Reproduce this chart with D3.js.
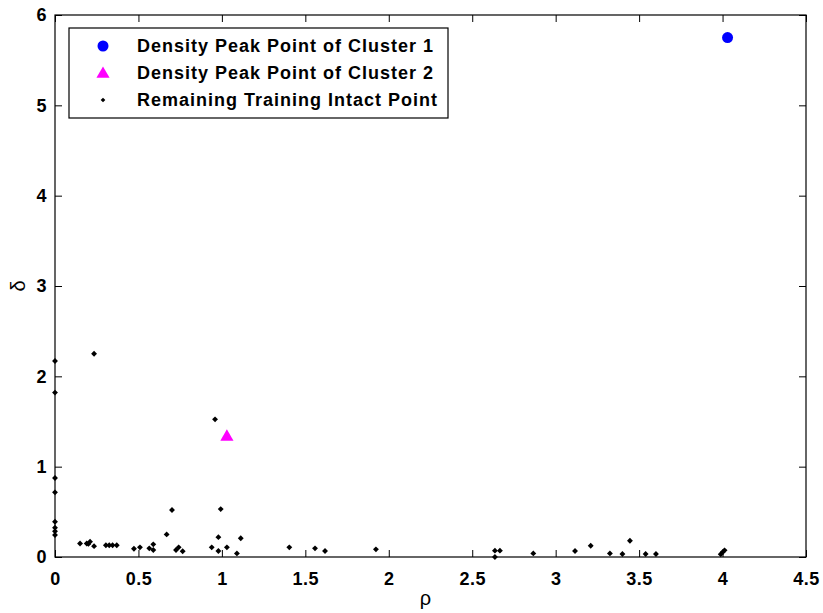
<!DOCTYPE html>
<html>
<head>
<meta charset="utf-8">
<script src="https://cdn.jsdelivr.net/npm/d3@7"></script>
<style>
  body { margin: 0; background: #fff; }
  text { font-family: "Liberation Sans", Arial, sans-serif; }
</style>
</head>
<body>
<div id="chart"></div>
<script>
// legend entries
var seriesNames = ["Density Peak Point of Cluster 1", "Density Peak Point of Cluster 2", "Remaining Training Intact Point"];

// density peaks (rho, delta)
var peak1 = [[4.03, 5.75]];
var peak2 = [[1.03, 1.34]];

// remaining points
var restRho = [0, 0, 0, 0, 0, 0, 0, 0,
  0.234, 0.15, 0.19, 0.21, 0.20, 0.234,
  0.305, 0.325, 0.345, 0.37, 0.473, 0.509,
  0.565, 0.589, 0.589, 0.669, 0.701, 0.725, 0.741, 0.765,
  0.959, 0.939, 0.979, 0.979, 0.993, 1.03, 1.09, 1.113,
  1.404, 1.558, 1.618, 1.923,
  2.636, 2.666, 2.636, 2.866, 3.116, 3.21,
  3.325, 3.40, 3.445, 3.539, 3.601,
  3.989, 4.0, 4.012];
var restDelta = [2.17, 1.82, 0.875, 0.716, 0.39, 0.325, 0.285, 0.243,
  2.25, 0.15, 0.15, 0.17, 0.145, 0.12,
  0.13, 0.13, 0.13, 0.13, 0.092, 0.107,
  0.096, 0.14, 0.077, 0.25, 0.52, 0.077, 0.107, 0.063,
  1.524, 0.107, 0.22, 0.066, 0.53, 0.107, 0.04, 0.207,
  0.107, 0.096, 0.066, 0.085,
  0.07, 0.07, 0.0, 0.04, 0.066, 0.125,
  0.04, 0.033, 0.18, 0.033, 0.033,
  0.03, 0.052, 0.074];

var xTicks = [0, 0.5, 1, 1.5, 2, 2.5, 3, 3.5, 4, 4.5];
var yTicks = [0, 1, 2, 3, 4, 5, 6];

var W = 823, H = 613;
var m = {left: 55, right: 17, top: 15, bottom: 56};
var w = W - m.left - m.right, h = H - m.top - m.bottom;

var svg = d3.select("#chart").append("svg")
  .attr("width", W).attr("height", H);

var g = svg.append("g").attr("transform", "translate(" + m.left + "," + m.top + ")");

var x = d3.scaleLinear().domain([0, 4.5]).range([0, w]);
var y = d3.scaleLinear().domain([0, 6]).range([h, 0]);

//Axes with inward ticks on every side
function styleAxis(sel, showText){
  sel.select(".domain").remove();
  sel.selectAll("line").attr("stroke", "#000").attr("stroke-width", 1);
  sel.selectAll("text")
    .style("font-size", "18px")
    .style("font-weight", "bold")
    .style("letter-spacing", "0.5px")
    .attr("fill", "#000")
    .style("display", showText ? null : "none");
}

var fmt = d3.format("");

g.append("g").attr("transform", "translate(0," + h + ")")
  .call(d3.axisBottom(x).tickValues(xTicks).tickSize(-7).tickPadding(15).tickFormat(fmt))
  .call(styleAxis, true);
g.append("g")
  .call(d3.axisTop(x).tickValues(xTicks).tickSize(-7))
  .call(styleAxis, false);
g.append("g")
  .call(d3.axisLeft(y).tickValues(yTicks).tickSize(-7).tickPadding(8).tickFormat(fmt))
  .call(styleAxis, true);
g.append("g").attr("transform", "translate(" + w + ",0)")
  .call(d3.axisRight(y).tickValues(yTicks).tickSize(-7))
  .call(styleAxis, false);

g.append("rect")
  .attr("width", w).attr("height", h)
  .attr("fill", "none").attr("stroke", "#000").attr("stroke-width", 1.2);

// axis labels
svg.append("text")
  .attr("x", m.left + x(2.22)).attr("y", 605)
  .attr("text-anchor", "middle")
  .style("font-size", "20px")
  .text("ρ");
svg.append("text")
  .attr("transform", "translate(25," + (m.top + y(3)) + ") rotate(-90)")
  .attr("text-anchor", "middle")
  .style("font-size", "20px")
  .text("δ");

// points
var rest = restRho.map(function(r, i){ return [r, restDelta[i]]; });
var diamond = d3.symbol().type(d3.symbolDiamond2).size(22);

g.selectAll(".rest").data(rest).enter().append("path")
  .attr("class", "rest")
  .attr("d", diamond)
  .attr("transform", function(d){ return "translate(" + x(d[0]) + "," + y(d[1]) + ")"; })
  .attr("fill", "#000");

g.selectAll(".p2").data(peak2).enter().append("path")
  .attr("class", "p2")
  .attr("d", d3.symbol().type(d3.symbolTriangle).size(75))
  .attr("transform", function(d){ return "translate(" + x(d[0]) + "," + (y(d[1]) + 1) + ")"; })
  .attr("fill", "#ff00ff");

g.selectAll(".p1").data(peak1).enter().append("circle")
  .attr("class", "p1")
  .attr("cx", function(d){ return x(d[0]); })
  .attr("cy", function(d){ return y(d[1]); })
  .attr("r", 5.5)
  .attr("fill", "#0000ff");

//Legend
var legend = svg.append("g").attr("transform", "translate(69,28)");
legend.append("rect")
  .attr("width", 379).attr("height", 90)
  .attr("fill", "#fff").attr("stroke", "#000").attr("stroke-width", 1.2);

var rows = legend.selectAll(".row").data(seriesNames).enter().append("g")
  .attr("transform", function(d, i){ return "translate(0," + (18 + i * 27) + ")"; });

rows.append("path")
  .attr("transform", function(d, i){ return "translate(34," + (i == 1 ? 1 : 0) + ")"; })
  .attr("d", function(d, i){
    if(i == 0) return d3.symbol().type(d3.symbolCircle).size(95)();
    if(i == 1) return d3.symbol().type(d3.symbolTriangle).size(75)();
    return d3.symbol().type(d3.symbolDiamond2).size(14)();
  })
  .attr("fill", function(d, i){ return ["#0000ff", "#ff00ff", "#000"][i]; });

rows.append("text")
  .attr("x", 68).attr("dy", "0.36em")
  .style("font-size", "18px")
  .style("font-weight", "bold")
  .style("letter-spacing", "1px")
  .text(function(d){ return d; });
</script>
</body>
</html>
